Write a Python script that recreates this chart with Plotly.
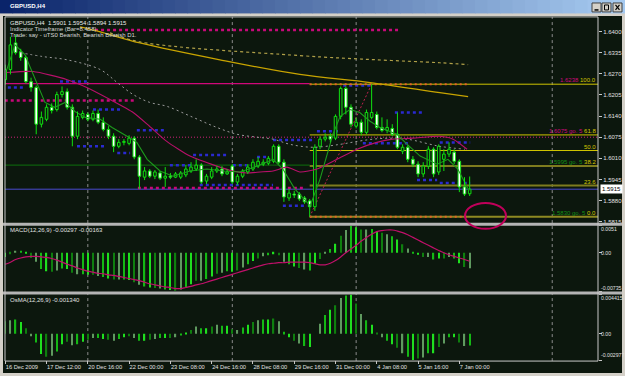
import plotly.graph_objects as go

W, H = 625, 376
FONT = "Liberation Sans, Arial, sans-serif"


def fx(px):
    return px / W


def fy(py):
    return 1 - py / H


# ---------------- data ----------------
date_labels = ["16 Dec 2009", "17 Dec 12:00", "20 Dec 16:00", "22 Dec 00:00", "23 Dec 08:00",
               "24 Dec 16:00", "28 Dec 08:00", "29 Dec 16:00", "31 Dec 00:00", "4 Jan 08:00",
               "5 Jan 16:00", "7 Jan 00:00"]
date_bars = [0, 8, 16, 24, 32, 40, 48, 56, 64, 72, 80, 88]

opens = [1.6252, 1.6283, 1.6365, 1.6338, 1.6320, 1.6246, 1.6228, 1.6115, 1.6130, 1.6167,
         1.6160, 1.6206, 1.6215, 1.6167, 1.6078, 1.6136, 1.6145, 1.6130, 1.6148, 1.6121,
         1.6099, 1.6078, 1.6047, 1.6059, 1.6056, 1.6072, 1.6014, 1.5952, 1.5971, 1.5955,
         1.5965, 1.5949, 1.5955, 1.5952, 1.5952, 1.5959, 1.5971, 1.5977, 1.5989, 1.5940,
         1.5952, 1.5971, 1.5977, 1.5962, 1.5986, 1.5937, 1.5955, 1.5968, 1.5977, 1.5986,
         1.5992, 1.5995, 1.6001, 1.6047, 1.5998, 1.5888, 1.5900, 1.5900, 1.5888, 1.5879,
         1.5861, 1.6047, 1.6069, 1.6078, 1.6072, 1.6139, 1.6225, 1.6167, 1.6109, 1.6121,
         1.6090, 1.6136, 1.6145, 1.6105, 1.6096, 1.6102, 1.6084, 1.6032, 1.6044, 1.6007,
         1.5992, 1.5962, 1.5986, 1.6038, 1.5968, 1.6007, 1.6023, 1.6029, 1.6001, 1.5922,
         1.5901]
highs = [1.6298, 1.6384, 1.6390, 1.6347, 1.6326, 1.6258, 1.6234, 1.6154, 1.6176, 1.6179,
         1.6215, 1.6231, 1.6225, 1.6176, 1.6154, 1.6157, 1.6151, 1.6157, 1.6160, 1.6136,
         1.6109, 1.6087, 1.6069, 1.6069, 1.6081, 1.6078, 1.6020, 1.5983, 1.5977, 1.5974,
         1.5971, 1.5983, 1.5965, 1.5968, 1.5971, 1.5989, 1.5998, 1.6007, 1.5995, 1.5962,
         1.5983, 1.5986, 1.5986, 1.5977, 1.5992, 1.5962, 1.5977, 1.5992, 1.6007, 1.6014,
         1.6007, 1.6017, 1.6053, 1.6053, 1.6007, 1.5916, 1.5910, 1.5906, 1.5894, 1.5885,
         1.6053, 1.6078, 1.6087, 1.6087, 1.6145, 1.6231, 1.6231, 1.6176, 1.6136, 1.6130,
         1.6160, 1.6238, 1.6154, 1.6136, 1.6130, 1.6115, 1.6151, 1.6053, 1.6050, 1.6017,
         1.6001, 1.5998, 1.6047, 1.6044, 1.6053, 1.6038, 1.6059, 1.6038, 1.6007, 1.5952,
         1.5954]
lows = [1.6237, 1.6268, 1.6329, 1.6310, 1.6240, 1.6215, 1.6084, 1.6105, 1.6124, 1.6148,
        1.6154, 1.6197, 1.6160, 1.6047, 1.6069, 1.6130, 1.6124, 1.6124, 1.6115, 1.6093,
        1.6069, 1.6029, 1.6041, 1.6050, 1.6050, 1.6007, 1.5916, 1.5943, 1.5949, 1.5946,
        1.5943, 1.5922, 1.5946, 1.5949, 1.5946, 1.5952, 1.5965, 1.5971, 1.5931, 1.5931,
        1.5946, 1.5965, 1.5955, 1.5959, 1.5931, 1.5928, 1.5949, 1.5962, 1.5971, 1.5980,
        1.5986, 1.5989, 1.5995, 1.5992, 1.5876, 1.5879, 1.5888, 1.5879, 1.5870, 1.5830,
        1.5848, 1.6038, 1.6062, 1.6059, 1.6066, 1.6130, 1.6145, 1.6105, 1.6102, 1.6081,
        1.6084, 1.6130, 1.6099, 1.6090, 1.6087, 1.6078, 1.6038, 1.6023, 1.5998, 1.5983,
        1.5952, 1.5952, 1.5977, 1.5952, 1.5959, 1.5971, 1.6014, 1.5992, 1.5906, 1.5894,
        1.5894]
closes = [1.6283, 1.6359, 1.6335, 1.6320, 1.6246, 1.6228, 1.6115, 1.6136, 1.6167, 1.6157,
          1.6206, 1.6215, 1.6167, 1.6078, 1.6139, 1.6148, 1.6130, 1.6148, 1.6121, 1.6099,
          1.6078, 1.6047, 1.6059, 1.6062, 1.6072, 1.6014, 1.5955, 1.5971, 1.5955, 1.5968,
          1.5949, 1.5955, 1.5952, 1.5962, 1.5965, 1.5977, 1.5983, 1.5989, 1.5937, 1.5955,
          1.5971, 1.5977, 1.5962, 1.5968, 1.5937, 1.5955, 1.5971, 1.5983, 1.5998, 1.6001,
          1.5998, 1.6010, 1.6047, 1.5998, 1.5891, 1.5903, 1.5897, 1.5885, 1.5876, 1.5861,
          1.6044, 1.6069, 1.6075, 1.6069, 1.6139, 1.6225, 1.6167, 1.6115, 1.6121, 1.6090,
          1.6151, 1.6151, 1.6105, 1.6096, 1.6105, 1.6084, 1.6044, 1.6044, 1.6007, 1.5992,
          1.5962, 1.5986, 1.6038, 1.5962, 1.6047, 1.6023, 1.6038, 1.6001, 1.5922, 1.5900,
          1.5915]

macd = [-0.0008,
        -0.0003, 0.0003, 0.0003, -0.0002, -0.0010, -0.0017, -0.0031, -0.0035, -0.0036, -0.0034,
        -0.0030, -0.0031, -0.0038, -0.0041, -0.0041, -0.0042, -0.0042, -0.0044, -0.0046, -0.0049,
        -0.0051, -0.0051, -0.0051, -0.0052, -0.0056, -0.0061, -0.0064, -0.0066, -0.0067, -0.0068,
        -0.0070, -0.0071, -0.0072, -0.0070, -0.0065, -0.0060, -0.0053, -0.0053, -0.0050, -0.0045,
        -0.0040, -0.0038, -0.0035, -0.0036, -0.0034, -0.0028, -0.0022, -0.0016, -0.0011, -0.0007,
        -0.0005, -0.0003, -0.0005, -0.0017, -0.0022, -0.0026, -0.0029, -0.0032, -0.0034, -0.0021,
        -0.0012, -0.0002, 0.0007, 0.0017, 0.0032, 0.0043, 0.0051, 0.0048, 0.0044, 0.0044,
        0.0045, 0.0041, 0.0038, 0.0035, 0.0031, 0.0025, 0.0016, 0.0008, -0.0001, -0.0004,
        -0.0008, -0.0008, -0.0013, -0.0011, -0.0011, -0.0008, -0.0011, -0.0020, -0.0027, -0.00297]
macd_signal = [-0.0022,
               -0.0018, -0.0013, -0.0010, -0.0008, -0.0007, -0.0007, -0.0008, -0.0009, -0.0011, -0.0014,
               -0.0018, -0.0022, -0.0025, -0.0029, -0.0032, -0.0035, -0.0037, -0.0039, -0.0040, -0.0042,
               -0.0043, -0.0045, -0.0047, -0.0049, -0.0051, -0.0053, -0.0056, -0.0059, -0.0061, -0.0063,
               -0.0065, -0.0066, -0.0068, -0.0068, -0.0066, -0.0064, -0.0061, -0.0059, -0.0056, -0.0053,
               -0.0050, -0.0047, -0.0044, -0.0041, -0.0038, -0.0035, -0.0032, -0.0029, -0.0026, -0.0023,
               -0.0021, -0.0020, -0.0019, -0.0019, -0.0018, -0.0018, -0.0018, -0.0018, -0.0019, -0.0021,
               -0.0023, -0.0023, -0.0020, -0.0015, -0.0008, 0.0000, 0.0007, 0.0014, 0.0022, 0.0029,
               0.0035, 0.0040, 0.0042, 0.0043, 0.0043, 0.0041, 0.0038, 0.0034, 0.0029, 0.0024,
               0.0019, 0.0014, 0.0009, 0.0004, 0.0000, -0.0004, -0.0007, -0.0010, -0.0013, -0.00163]
osma = [0.0014,
        0.0015, 0.0016, 0.0013, 0.0006, -0.0003, -0.0010, -0.0023, -0.0026, -0.0025, -0.0020,
        -0.0012, -0.0009, -0.0013, -0.0012, -0.0009, -0.0007, -0.0005, -0.0005, -0.0006, -0.0007,
        -0.0008, -0.0006, -0.0004, -0.0003, -0.0005, -0.0008, -0.0008, -0.0007, -0.0006, -0.0005,
        -0.0005, -0.0005, -0.0004, -0.0002, 0.0001, 0.0004, 0.0008, 0.0006, 0.0006, 0.0008,
        0.0010, 0.0009, 0.0009, 0.0005, 0.0004, 0.0007, 0.0010, 0.0013, 0.0015, 0.0016,
        0.0016, 0.0017, 0.0014, 0.0002, -0.0004, -0.0008, -0.0011, -0.0014, -0.0015, 0.0000,
        0.0011, 0.0021, 0.0027, 0.0032, 0.0040, 0.0043, 0.00441, 0.0034, 0.0022, 0.0015,
        0.0010, 0.0001, -0.0004, -0.0008, -0.0012, -0.0016, -0.0022, -0.0026, -0.00298, -0.0028,
        -0.0027, -0.0022, -0.0022, -0.0015, -0.0011, -0.0004, -0.0004, -0.0010, -0.0014, -0.00134]

# moving averages (knots: bar position, price)
ma_green_x = [0.3, 1.9, 3.8, 5.8, 7.7, 9.6, 11.6, 13.5, 15.5, 18.4, 20.7, 23.6, 25.5, 27.5, 30.0,
              32.5, 35.8, 39.1, 42.2, 45.5, 48.8, 51.9, 53.8, 56.1, 59.1, 61.0, 63.5, 64.9, 66.8,
              68.7, 70.7, 72.6, 75.9, 77.9, 80.4, 83.7, 85.8, 87.7, 89.9]
ma_green_y = [1.6283, 1.6359, 1.6329, 1.6252, 1.6182, 1.6167, 1.6182, 1.6154, 1.6136, 1.6130,
              1.6105, 1.6078, 1.6059, 1.6007, 1.5971, 1.5955, 1.5971, 1.5977, 1.5971, 1.5968,
              1.5986, 1.6007, 1.5977, 1.5916, 1.5864, 1.5946, 1.6084, 1.6139, 1.6160, 1.6151,
              1.6124, 1.6105, 1.6084, 1.6053, 1.6017, 1.5992, 1.6007, 1.5977, 1.5910]
ma_red_x = [0.3, 5.4, 12.0, 15.8, 20.3, 24.8, 28.0, 31.3, 35.8, 41.0, 44.1, 46.8, 49.4, 51.9,
            54.6, 57.1, 60.4, 64.3, 68.2, 72.0, 75.1, 79.0, 84.2, 86.8, 89.5]
ma_red_y = [1.6274, 1.6277, 1.6252, 1.6228, 1.6191, 1.6151, 1.6108, 1.6062, 1.6017, 1.5986,
            1.5971, 1.5965, 1.5968, 1.5971, 1.5983, 1.5968, 1.5977, 1.6007, 1.6038, 1.6059,
            1.6069, 1.6072, 1.6078, 1.6069, 1.6038]
ma_gray_x = [2.9, 7.3, 12.0, 18.4, 21.7, 24.8, 28.0, 31.3, 36.4, 41.0, 44.9, 48.8, 51.9, 55.2,
             59.6, 64.9, 68.2, 71.3, 74.6, 77.9, 84.2, 89.1]
ma_gray_y = [1.6335, 1.6323, 1.6313, 1.6283, 1.6243, 1.6206, 1.6182, 1.6170, 1.6136, 1.6105,
             1.6084, 1.6075, 1.6069, 1.6053, 1.6044, 1.6053, 1.6062, 1.6069, 1.6072, 1.6069,
             1.6047, 1.6038]
ma_d1_x = [14.5, 18.4, 26.1, 41.6, 57.1, 70.7, 84.2, 89.7]
ma_d1_y = [1.6414, 1.6399, 1.6365, 1.6313, 1.6268, 1.6243, 1.6212, 1.6200]
ma_d1b_x = [20.3, 26.1, 57.1, 72.0, 84.2, 89.7]
ma_d1b_y = [1.6396, 1.6368, 1.6326, 1.6313, 1.6304, 1.6298]

# support / resistance segments
sr_blue_from = [0.5, 10.6, 13.9, 17.0, 21.7, 25.5, 31.9, 36.4, 37.7, 44.1, 48.8, 51.9, 53.8, 60.4,
                65.5, 69.3, 75.5, 79.8, 84.2, 84.2]
sr_blue_to = [3.8, 15.8, 19.7, 22.8, 24.2, 31.0, 36.4, 43.0, 51.9, 46.8, 50.9, 59.6, 58.5, 64.9,
              70.7, 78.4, 80.9, 83.7, 90.1, 90.1]
sr_blue_price = [1.6228, 1.6246, 1.6047, 1.6160, 1.6026, 1.6096, 1.5989, 1.6020, 1.5928, 1.5989,
                 1.6014, 1.6066, 1.5864, 1.6093, 1.6234, 1.6056, 1.6151, 1.5943, 1.6059, 1.5934]
sr_mag_from = [17.4, -0.1, 25.7]
sr_mag_to = [76.5, 25.1, 58.1]
sr_mag_price = [1.6405, 1.6188, 1.5919]

level_mag_solid = 1.6240
level_green = 1.5989
level_mag_dotted = 1.6075
bid = 1.5915

fib_start, fib_end = 59, 71
fib_levels = ["100.0", "61.8", "50.0", "38.2", "23.6", "0.0"]
fib_prices = [1.6238, 1.6082, 1.6034, 1.5986, 1.5926, 1.5830]

separator_bars = [16, 44, 68, 106]

price_ticks = [1.6400, 1.6335, 1.6270, 1.6205, 1.6140, 1.6075, 1.6010, 1.5945, 1.5880, 1.5815]
macd_ticks = [0.0051, 0.0, -0.00735]
macd_tick_text = ["0.0051", "0.00", "-0.00735"]
osma_ticks = [0.004415, 0.0, -0.002977]
osma_tick_text = ["0.004415", "0.00", "-0.002977"]

# ---------------- styling ----------------
BG = "#0c170d"
GREEN = "#10e010"
bars = list(range(len(opens)))
XR = [-0.05, 114.87]

fig = go.Figure()

# moving averages
fig.add_trace(go.Scatter(x=ma_d1_x, y=ma_d1_y, mode="lines", line=dict(color="#c8a400", width=1.3, shape="spline"),
                         xaxis="x", yaxis="y", hoverinfo="skip"))
fig.add_trace(go.Scatter(x=ma_d1b_x, y=ma_d1b_y, mode="lines",
                         line=dict(color="#b0a048", width=1.2, dash="3px,3px", shape="spline"),
                         xaxis="x", yaxis="y", hoverinfo="skip"))
fig.add_trace(go.Scatter(x=ma_gray_x, y=ma_gray_y, mode="lines",
                         line=dict(color="#9a9a9a", width=1, dash="2px,3px", shape="spline"),
                         xaxis="x", yaxis="y", hoverinfo="skip"))
fig.add_trace(go.Scatter(x=ma_red_x, y=ma_red_y, mode="lines",
                         line=dict(color="#b8106a", width=1.1, shape="spline", smoothing=0.6),
                         xaxis="x", yaxis="y", hoverinfo="skip"))
fig.add_trace(go.Scatter(x=ma_green_x, y=ma_green_y, mode="lines",
                         line=dict(color="#1d9a1d", width=1.1),
                         xaxis="x", yaxis="y", hoverinfo="skip"))

# candles: wicks + bodies
wx, wy = [], []
for i, (o, h, l, c) in enumerate(zip(opens, highs, lows, closes)):
    top, bot = max(o, c), min(o, c)
    wx += [i, i, None, i, i, None]
    wy += [h, top, None, bot, l, None]
fig.add_trace(go.Scatter(x=wx, y=wy, mode="lines", line=dict(color=GREEN, width=1),
                         xaxis="x", yaxis="y", hoverinfo="skip"))
body_base = [min(o, c) for o, c in zip(opens, closes)]
body_h = [max(abs(c - o), 0.00003) for o, c in zip(opens, closes)]
body_fill = [BG if c >= o else "#ffffff" for o, c in zip(opens, closes)]
fig.add_trace(go.Bar(x=bars, y=body_h, base=body_base, width=0.5,
                     marker=dict(color=body_fill, line=dict(color=GREEN, width=1)),
                     xaxis="x", yaxis="y", hoverinfo="skip"))

# MACD histogram + signal
hist_cols = ["#1fe01f", "#0e7f0e", "#5f9a5f", "#14b814"]
fig.add_trace(go.Bar(x=bars, y=macd, width=0.24,
                     marker=dict(color=[hist_cols[i % 4] for i in bars], line=dict(width=0)),
                     xaxis="x2", yaxis="y2", hoverinfo="skip"))
fig.add_trace(go.Scatter(x=bars, y=macd_signal, mode="lines",
                         line=dict(color="#c0106a", width=1.2, shape="spline"),
                         xaxis="x2", yaxis="y2", hoverinfo="skip"))
# OsMA histogram
fig.add_trace(go.Bar(x=bars, y=osma, width=0.24,
                     marker=dict(color=[hist_cols[(i + 1) % 4] for i in bars], line=dict(width=0)),
                     xaxis="x3", yaxis="y3", hoverinfo="skip"))

shapes = []


def prect(x0, y0, x1, y1, color, layer="below", line_color=None, lw=0):
    shapes.append(dict(type="rect", xref="paper", yref="paper", x0=fx(x0), x1=fx(x1), y0=fy(y1), y1=fy(y0),
                       fillcolor=color, line=dict(color=line_color or color, width=lw), layer=layer))


def pline(x0, y0, x1, y1, color, width=1, dash="solid", layer="below"):
    shapes.append(dict(type="line", xref="paper", yref="paper", x0=fx(x0), x1=fx(x1), y0=fy(y0), y1=fy(y1),
                       line=dict(color=color, width=width, dash=dash), layer=layer))


def hline(price, i0, i1, color, width=1, dash="solid", xref="x"):
    shapes.append(dict(type="line", xref=xref, yref="y", x0=i0, x1=i1, y0=price, y1=price,
                       line=dict(color=color, width=width, dash=dash), layer="below"))


# window / chart background
prect(0, 0, 625, 376, "#d4d0c8")
c0, c1 = (10, 36, 106), (166, 202, 240)
n = 50
for k in range(n):
    t = k / (n - 1)
    col = "rgb(%d,%d,%d)" % tuple(round(a + (b - a) * t) for a, b in zip(c0, c1))
    prect(k * W / n, 0, (k + 1) * W / n + 0.6, 13.5, col)
prect(3, 16, 622, 375, BG)

# period separators
for b in separator_bars:
    shapes.append(dict(type="line", xref="x", yref="paper", x0=b, x1=b, y0=fy(363), y1=fy(17),
                       line=dict(color="#8c8c8c", width=1, dash="3px,3px"), layer="below"))

# horizontal levels
hline(level_mag_solid, -0.1, fib_start, "#d0087a", 1.3)
hline(level_green, -0.1, fib_start, "#0d5f0d", 1.2)
hline(level_mag_dotted, 0, 1, "#d0207a", 1, "1px,2px", xref="x domain")
hline(bid, 0, 1, "#4a4ad0", 1, xref="x domain")
for a, b, p in zip(sr_blue_from, sr_blue_to, sr_blue_price):
    hline(p, a, b, "#2a2ad0", 2.5, "3px,3px")
for a, b, p in zip(sr_mag_from, sr_mag_to, sr_mag_price):
    hline(p, a, b, "#c8087a", 2.5, "3px,3px")

# fibonacci
fib_cols = ["#cfc400", "#cfc400", "#cfc400", "#7e7c1e", "#7e7c1e", "#8e8a22"]
fib_w = [1, 1, 1, 2, 2, 2]
for p, c, w in zip(fib_prices, fib_cols, fib_w):
    shapes.append(dict(type="line", xref="x", yref="y", x0=fib_start, x1=XR[1], y0=p, y1=p,
                       line=dict(color=c, width=w), layer="below"))
hline(fib_prices[0], fib_start, 90, "#e0602a", 2, "2px,3px")
hline(fib_prices[-1], fib_start, 90, "#e0602a", 2, "2px,3px")
shapes.append(dict(type="line", xref="x", yref="y", x0=fib_start, x1=fib_end, y0=fib_prices[-1],
                   y1=fib_prices[0], line=dict(color="#c02050", width=1, dash="2px,2px"), layer="below"))

# frames / separators (above)
prect(3, 224, 622, 227, "#b4b4b4", layer="above")
prect(3, 293, 622, 296, "#b4b4b4", layer="above")
pline(5, 17, 598, 17, "#c8c8c8", 1, layer="above")
pline(5, 17, 5, 363, "#c8c8c8", 1, layer="above")
pline(5, 363, 598, 363, "#c8c8c8", 1, layer="above")
pline(598, 17, 598, 363, "#c8c8c8", 1, layer="above")
prect(623, 14, 625, 376, "#d4d0c8", layer="above")
prect(0, 375, 625, 376, "#d4d0c8", layer="above")
prect(0, 14, 3, 376, "#d4d0c8", layer="above")

# ellipse
shapes.append(dict(type="circle", xref="paper", yref="paper", x0=fx(465), x1=fx(506), y0=fy(230), y1=fy(204),
                   line=dict(color="#c0005a", width=2), layer="above"))

# window buttons
for x0, x1 in [(592, 601), (602, 611), (613, 622)]:
    prect(x0, 3, x1, 12, "#d4d0c8", layer="above", line_color="#404040", lw=1)
pline(594.5, 10, 598.5, 10, "#000000", 1.5, layer="above")
prect(604.5, 5, 608.5, 10, "rgba(0,0,0,0)", layer="above", line_color="#000000", lw=1)
pline(615.5, 5, 619.5, 10, "#000000", 1.2, layer="above")
pline(619.5, 5, 615.5, 10, "#000000", 1.2, layer="above")

annotations = []


def ptext(x, y, text, color="#e0e0e0", size=6, anchor="left", bold=False):
    annotations.append(dict(xref="paper", yref="paper", x=fx(x), y=fy(y), text=("<b>%s</b>" % text) if bold else text,
                            showarrow=False, xanchor=anchor, yanchor="middle",
                            font=dict(color=color, size=size, family=FONT)))


ptext(8, 6.5, "GBPUSD,H4", "#ffffff", 6, bold=True)
ptext(8, 23, "GBPUSD,H4  1.5901 1.5954 1.5894 1.5915", "#e8e8e8")
ptext(8, 29, "Indicator Timeframe (Bar=8.458)", "#d8d8d8")
ptext(8, 35, "Trade: say - uTS0 Bearish, Bearish Bearish D1.", "#d8d8d8")
ptext(8, 231.5, "MACD(12,26,9) -0.00297 -0.00163", "#e0e0e0")
ptext(8, 302, "OsMA(12,26,9) -0.001340", "#e0e0e0")

# right side labels for the sub-windows
for v, t, sh in zip(macd_ticks, macd_tick_text, [-3.5, 0, 3]):
    annotations.append(dict(xref="paper", yref="y2", x=fx(599.5), y=v, yshift=sh, text=t, showarrow=False,
                            xanchor="left", yanchor="middle", borderpad=0,
                            font=dict(color="#e0e0e0", size=5.2, family=FONT)))
for v, t, sh in zip(osma_ticks, osma_tick_text, [-4, 0, 5]):
    annotations.append(dict(xref="paper", yref="y3", x=fx(599.5), y=v, yshift=sh, text=t, showarrow=False,
                            xanchor="left", yanchor="middle", borderpad=0,
                            font=dict(color="#e0e0e0", size=5.2, family=FONT)))

# current price box
annotations.append(dict(xref="paper", yref="y", x=fx(600), y=bid, text="1.5915", showarrow=False,
                        xanchor="left", yanchor="middle", bgcolor="#ffffff", borderpad=1,
                        font=dict(color="#000000", size=6, family=FONT)))

# fibonacci labels
fib_prefix = ["<span style='color:#d0087a'>1.6238</span> ", "<span style='color:#d0087a'>1.6075 go. 5</span> ",
              "", "<span style='color:#138f13'>1.5995 go. 5</span> ", "",
              "<span style='color:#138f13'>1.5830 go. 5</span> "]
for p, lab, pre in zip(fib_prices, fib_levels, fib_prefix):
    annotations.append(dict(xref="paper", yref="y", x=fx(597), y=p, text=pre + lab, showarrow=False,
                            xanchor="right", yanchor="bottom", borderpad=0,
                            font=dict(color="#d4c800", size=6, family=FONT)))

xdom = [fx(5), fx(598)]
common_x = dict(domain=xdom, range=XR, showgrid=False, zeroline=False, showline=False, fixedrange=True)
common_y = dict(showgrid=False, zeroline=False, showline=False, fixedrange=True, side="right",
                ticks="outside", ticklen=3, tickcolor="#c8c8c8")

fig.update_layout(
    width=W, height=H, margin=dict(l=0, r=0, t=0, b=0),
    paper_bgcolor="#d4d0c8", plot_bgcolor="rgba(0,0,0,0)",
    showlegend=False, hovermode=False, barmode="overlay",
    font=dict(family=FONT, size=6, color="#e0e0e0"),
    xaxis=dict(common_x, anchor="y", showticklabels=False, ticks=""),
    xaxis2=dict(common_x, anchor="y2", matches="x", showticklabels=False, ticks=""),
    xaxis3=dict(common_x, anchor="y3", matches="x", tickmode="array", tickvals=date_bars,
                ticktext=date_labels, ticks="outside", ticklen=3, tickcolor="#c8c8c8",
                ticklabelposition="outside right", tickangle=0, ticklabelstandoff=1,
                tickfont=dict(size=5.7, color="#e0e0e0", family=FONT)),
    yaxis=dict(common_y, domain=[fy(224), fy(17)], range=[1.58116, 1.64450], anchor="x",
               tickmode="array", tickvals=price_ticks, ticktext=["%.4f" % v for v in price_ticks],
               tickfont=dict(size=6, color="#e0e0e0", family=FONT)),
    yaxis2=dict(common_y, domain=[fy(293), fy(227)], range=[-0.00735, 0.0051], anchor="x2",
                tickmode="array", tickvals=macd_ticks, showticklabels=False),
    yaxis3=dict(common_y, domain=[fy(362), fy(296)], range=[-0.002977, 0.004415], anchor="x3",
                tickmode="array", tickvals=osma_ticks, showticklabels=False),
    shapes=shapes, annotations=annotations,
)

fig.write_html("out.html")
